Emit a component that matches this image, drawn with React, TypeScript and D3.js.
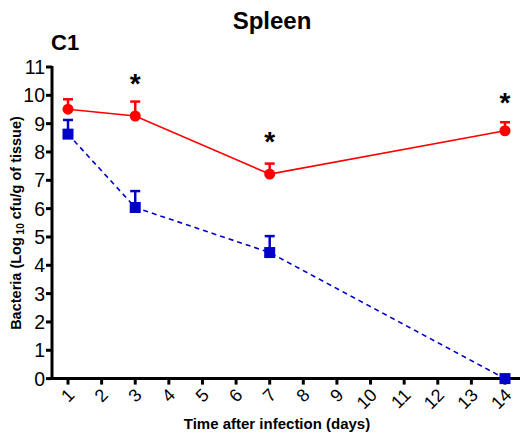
import React from "react";
import * as d3 from "d3";

const days = [1, 3, 7, 14];
const redMean = [9.51, 9.27, 7.22, 8.75];
const redErr = [0.35, 0.51, 0.37, 0.3];
const blueMean = [8.63, 6.04, 4.45, 0];
const blueErr = [0.5, 0.58, 0.58, 0];
const starDays = [3, 7, 14];
const starValues = [10.64, 8.62, 9.97];
const xTicks = d3.range(1, 15);
const yTicks = d3.range(0, 12);

const W = 520, H = 442;
const FONT = "'Liberation Sans', Arial, sans-serif";

export default function App() {
  const x = d3.scaleLinear().domain([1, 14]).range([68, 505]);
  const y = d3.scaleLinear().domain([0, 11]).range([378.6, 67]);
  const x0 = 52;
  const xEnd = 520;
  const lineGen = d3.line<number>().x((_, i) => x(days[i])).y((d) => y(d));
  const red = "#ff0000";
  const blue = "#0000c8";
  return (
    <svg width={W} height={H} style={{ position: "absolute", left: 0, top: 0 }} fontFamily={FONT}>
      <rect width={W} height={H} fill="#fff" />
      <text x={272} y={29} textAnchor="middle" fontWeight="bold" fontSize={24}>Spleen</text>
      <text x={51} y={50} fontWeight="bold" fontSize={22}>C1</text>
      {/* axes */}
      <line x1={x0} x2={x0} y1={y(11) - 1} y2={y(0) + 1.5} stroke="#000" strokeWidth={3} />
      <line x1={x0 - 1.5} x2={xEnd} y1={y(0)} y2={y(0)} stroke="#000" strokeWidth={3} />
      {yTicks.map((t) => (
        <g key={t}>
          <line x1={x0 - 6} x2={x0} y1={y(t)} y2={y(t)} stroke="#000" strokeWidth={3} />
          <text x={x0 - 7} y={y(t)} dy="0.36em" textAnchor="end" fontSize={19.5}>{t}</text>
        </g>
      ))}
      {xTicks.map((t) => (
        <g key={t}>
          <line x1={x(t)} x2={x(t)} y1={y(0)} y2={y(0) + 6} stroke="#000" strokeWidth={3} />
          <text transform={`translate(${x(t) + 3},${y(0) + 13}) rotate(-45)`} dy="0.36em" textAnchor="end" fontSize={18}>{t}</text>
        </g>
      ))}
      <text x={277} y={429} textAnchor="middle" fontWeight="bold" fontSize={15}>Time after infection (days)</text>
      <text transform={`translate(21,${223}) rotate(-90)`} textAnchor="middle" fontWeight="bold" fontSize={14.5}>
        Bacteria (Log<tspan fontSize={10} dy={3}> 10</tspan><tspan dy={-3}> cfu/g of tissue)</tspan>
      </text>
      {/* blue series */}
      <path d={lineGen(blueMean) || ""} fill="none" stroke={blue} strokeWidth={1.6} strokeDasharray="5,4" />
      {days.map((d, i) => blueErr[i] > 0 && (
        <g key={"be" + i} stroke={blue} strokeWidth={2.5}>
          <line x1={x(d)} x2={x(d)} y1={y(blueMean[i])} y2={y(blueMean[i] + blueErr[i])} />
          <line x1={x(d) - 5} x2={x(d) + 5} y1={y(blueMean[i] + blueErr[i])} y2={y(blueMean[i] + blueErr[i])} />
        </g>
      ))}
      {days.map((d, i) => (
        <rect key={"bm" + i} x={x(d) - 5.5} y={y(blueMean[i]) - 5.5} width={11} height={11} fill={blue} />
      ))}
      {/* red series */}
      <path d={lineGen(redMean) || ""} fill="none" stroke={red} strokeWidth={1.6} />
      {days.map((d, i) => (
        <g key={"re" + i} stroke={red} strokeWidth={2.5}>
          <line x1={x(d)} x2={x(d)} y1={y(redMean[i])} y2={y(redMean[i] + redErr[i])} />
          <line x1={x(d) - 5} x2={x(d) + 5} y1={y(redMean[i] + redErr[i])} y2={y(redMean[i] + redErr[i])} />
        </g>
      ))}
      {days.map((d, i) => (
        <circle key={"rm" + i} cx={x(d)} cy={y(redMean[i])} r={5.5} fill={red} />
      ))}
      {starDays.map((d, i) => (
        <text key={"s" + i} x={x(d)} y={y(starValues[i])} dy="0.58em" textAnchor="middle" fontWeight="bold" fontSize={28}>*</text>
      ))}
    </svg>
  );
}
